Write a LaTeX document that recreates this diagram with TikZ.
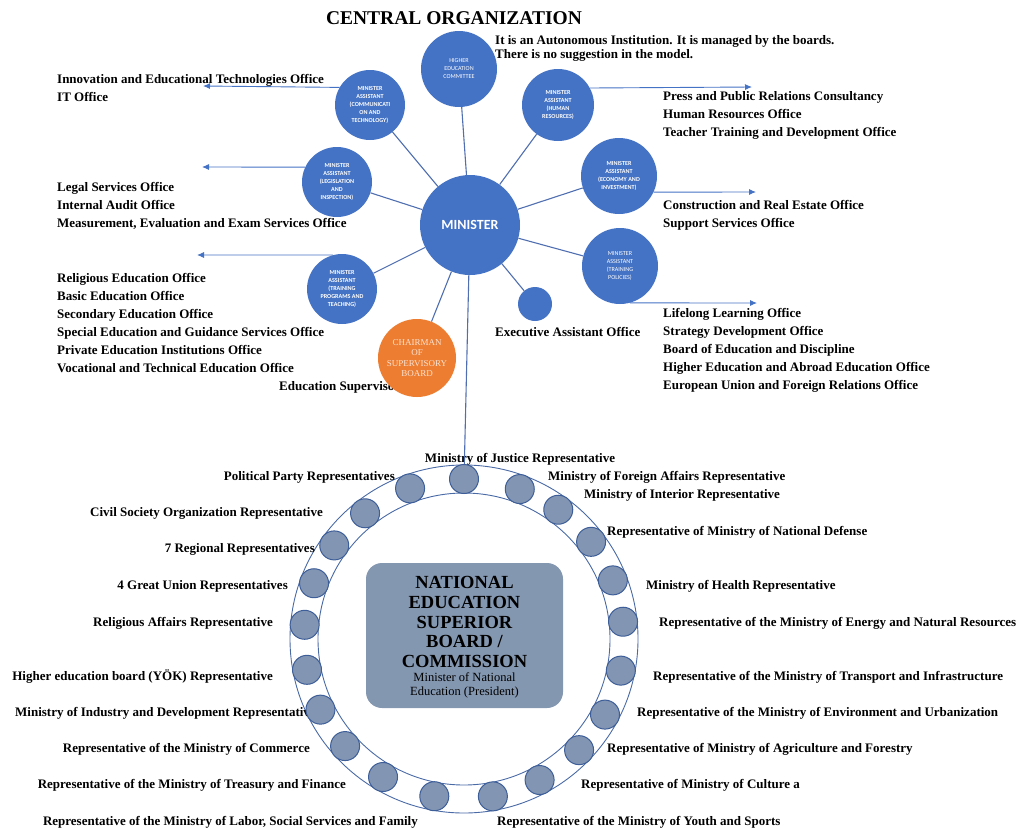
\documentclass[tikz,border=0pt]{standalone}
\usepackage{fontspec}
\setmainfont{Liberation Serif}
\newfontfamily\circfont{Carlito}
\usetikzlibrary{positioning, arrows.meta}

\definecolor{mablue}{HTML}{4472C4}
\definecolor{linkblue}{HTML}{4F6FB0}
\definecolor{chairorange}{HTML}{ED7D31}
\definecolor{chairtext}{HTML}{FBE3D3}
\definecolor{boardfill}{HTML}{8497B0}
\definecolor{seatfill}{HTML}{8295B2}
\definecolor{seatline}{HTML}{3D5E98}
\definecolor{ringline}{HTML}{4A6AA6}

\tikzset{
	heading/.style={inner sep=0pt, font=\bfseries\fontsize{19.5}{22}\selectfont},
	office/.style={anchor=west, align=left, inner sep=0pt, yshift=-2pt, font=\bfseries\fontsize{13}{18}\selectfont},
	rep/.style={inner sep=0pt, yshift=-2pt, font=\bfseries\fontsize{13}{15}\selectfont},
	assistant/.style={circle, fill=mablue, text=white, minimum size=70pt, inner sep=0pt, align=center, font=\circfont\bfseries\fontsize{6.1}{8}\selectfont},
	minister/.style={circle, fill=mablue, text=white, minimum size=100pt, inner sep=0pt, font=\circfont\bfseries\fontsize{14}{16}\selectfont},
	chairman/.style={circle, fill=chairorange, text=chairtext, minimum size=78pt, inner sep=0pt, align=center, font=\fontsize{9}{10.3}\selectfont},
	link/.style={draw=linkblue, line width=1.1pt},
	branch/.style={->, draw=mablue, line width=0.9pt},
	ring/.style={draw=ringline, line width=0.9pt},
	seat/.style={circle, fill=seatfill, draw=seatline, line width=1pt, minimum size=29pt, inner sep=0pt},
	board/.style={rectangle, rounded corners=16pt, fill=boardfill, minimum width=197pt, minimum height=145pt},
	boardtitle/.style={align=center, inner sep=0pt, font=\bfseries\fontsize{18.5}{19.8}\selectfont},
	boardsub/.style={align=center, inner sep=0pt, font=\fontsize{12.5}{14}\selectfont},
}

\begin{document}
\begin{tikzpicture}[x=1pt, y=-1pt, >={Latex[length=7pt,width=6pt]}]
	\useasboundingbox (0,0) rectangle (1022,827);

	\node [heading] (title) at (454,18) {CENTRAL ORGANIZATION};
	\node [office, font=\bfseries\fontsize{13}{14}\selectfont] (note) at (495,46) {It is an Autonomous Institution. It is managed by the boards.\\There is no suggestion in the model.};

	% offices
	\node [office] (commoff) at (57,86) {Innovation and Educational Technologies Office\\IT Office};
	\node [office] (legisoff) at (57,204) {Legal Services Office\\Internal Audit Office\\Measurement, Evaluation and Exam Services Office};
	\node [office] (progoff) at (57,321) {Religious Education Office\\Basic Education Office\\Secondary Education Office\\Special Education and Guidance Services Office\\Private Education Institutions Office\\Vocational and Technical Education Office};
	\node [office] (supervoff) at (279,385) {Education Supervisor};
	\node [office] (hroff) at (663,113) {Press and Public Relations Consultancy\\Human Resources Office\\Teacher Training and Development Office};
	\node [office] (econoff) at (663,213) {Construction and Real Estate Office\\Support Services Office};
	\node [office] (poloff) at (663,348) {Lifelong Learning Office\\Strategy Development Office\\Board of Education and Discipline\\Higher Education and Abroad Education Office\\European Union and Foreign Relations Office};
	\node [office] (execoff) at (495,330) {Executive Assistant Office};

	% minister and assistants
	\node [minister] (minister) at (470,225) {MINISTER};
	\node [assistant, minimum size=76pt, font=\circfont\fontsize{6.1}{8}\selectfont] (hec) at (459,69) {HIGHER\\EDUCATION\\COMMITTEE};
	\node [assistant] (comm) at (370,105) {MINISTER\\ASSISTANT\\(COMMUNICATI\\ON AND\\TECHNOLOGY)};
	\node [assistant, minimum size=72pt] (hr) at (558,105) {MINISTER\\ASSISTANT\\(HUMAN\\RESOURCES)};
	\node [assistant] (legis) at (337,182) {MINISTER\\ASSISTANT\\(LEGISLATION\\AND\\INSPECTION)};
	\node [assistant, minimum size=76pt] (econ) at (619,176) {MINISTER\\ASSISTANT\\(ECONOMY AND\\INVESTMENT)};
	\node [assistant, minimum size=76pt, font=\circfont\fontsize{6.1}{8}\selectfont] (trpol) at (620,266) {MINISTER\\ASSISTANT\\(TRAINING\\POLICIES)};
	\node [assistant] (trprog) at (342,289) {MINISTER\\ASSISTANT\\(TRAINING\\PROGRAMS AND\\TEACHING)};
	\node [assistant, minimum size=34pt] (exec) at (535,304) {};
	\node [chairman] (chair) at (417,358) {CHAIRMAN\\OF\\SUPERVISORY\\BOARD};

	\foreach \n in {hec,comm,hr,legis,econ,trpol,trprog,exec,chair}
		\draw [link] (minister) -- (\n);

	\coordinate (commtip) at (203,86);
	\coordinate (legistip) at (202,167);
	\coordinate (progtip) at (197,255);
	\coordinate (hrtip) at (752,87);
	\coordinate (econtip) at (756,192);
	\coordinate (poltip) at (757,303);
	\draw [branch] (comm.150) -- (commtip);
	\draw [branch] (legis.155) -- (legistip);
	\draw [branch] (trprog.105) -- (progtip);
	\draw [branch] (hr.28) -- (hrtip);
	\draw [branch] (econ.-25) -- (econtip);
	\draw [branch] (trpol.-75) -- (poltip);

	% board
	\coordinate (ringc) at (464,639);
	\draw [ring] (ringc) circle [radius=174pt];
	\draw [ring] (ringc) circle [radius=146pt];
	\node [board] (board) at (464.5,635.5) {};
	\node [boardtitle] (boardtitle) at (464.5,622) {NATIONAL\\EDUCATION\\SUPERIOR\\BOARD /\\COMMISSION};
	\node [boardsub, below=4pt of boardtitle] (boardsub) {Minister of National\\Education (President)};

	\node [rep] (rjustice) at (520,457) {Ministry of Justice Representative};
	\node [rep, anchor=west] (rforeign) at (548,475) {Ministry of Foreign Affairs Representative};
	\node [rep, anchor=west] (rinterior) at (584,493) {Ministry of Interior Representative};
	\node [rep, anchor=west] (rdefense) at (607,530) {Representative of Ministry of National Defense};
	\node [rep, anchor=west] (rhealth) at (646,584) {Ministry of Health Representative};
	\node [rep, anchor=west] (renergy) at (659,621) {Representative of the Ministry of Energy and Natural Resources};
	\node [rep, anchor=west] (rtransport) at (653,675) {Representative of the Ministry of Transport and Infrastructure};
	\node [rep, anchor=west] (renviron) at (637,711) {Representative of the Ministry of Environment and Urbanization};
	\node [rep, anchor=west] (ragri) at (607,747) {Representative of Ministry of Agriculture and Forestry};
	\node [rep, anchor=west] (rculture) at (581,783) {Representative of Ministry of Culture a};
	\node [rep, anchor=west] (ryouth) at (497,820) {Representative of the Ministry of Youth and Sports};
	\node [rep, anchor=east] (rlabor) at (418,820) {Representative of the Ministry of Labor, Social Services and Family};
	\node [rep, anchor=east] (rtreasury) at (346,783) {Representative of the Ministry of Treasury and Finance};
	\node [rep, anchor=east] (rcommerce) at (310,747) {Representative of the Ministry of Commerce};
	\node [rep, anchor=west] (rindustry) at (15,711) {Ministry of Industry and Development Representative};
	\node [rep, anchor=east] (ryok) at (273,675) {Higher education board (YÖK) Representative};
	\node [rep, anchor=east] (rreligious) at (273,621) {Religious Affairs Representative};
	\node [rep, anchor=east] (runion) at (288,584) {4 Great Union Representatives};
	\node [rep, anchor=east] (rregional) at (315,547) {7 Regional Representatives};
	\node [rep, anchor=east] (rcivil) at (323,511) {Civil Society Organization Representative};
	\node [rep, anchor=east] (rparty) at (395,475) {Political Party Representatives};

	\foreach \a [count=\i from 0] in {90,69.6,53.9,37.4,21.5,6.2,-11.4,-28.2,-44,-61.8,-79.6,-100.7,-120.4,-138,-153.8,-168.9,174.9,159.6,144.2,128.2,109.7}
		\node [seat] (s\i) at ([shift={(ringc)}] \a:160pt) {};

	\draw [link] (minister) -- (s0);
\end{tikzpicture}
\end{document}
